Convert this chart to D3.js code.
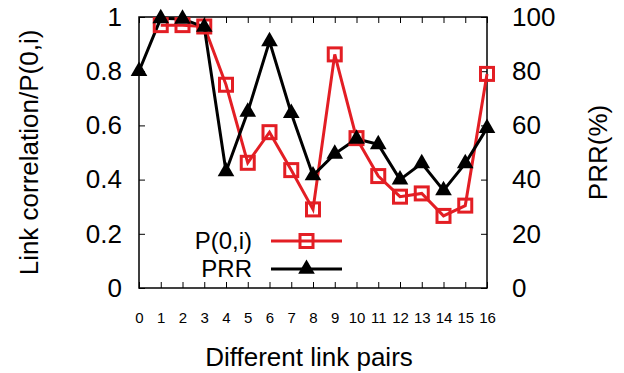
<!DOCTYPE html>
<html lang="en">
<head>
    <meta charset="UTF-8">
    <script src="https://d3js.org/d3.v7.min.js"></script>
    <title>Link correlation and PRR</title>
    <style>
        body { margin: 0; background: #fff; }
        svg { font-family: "Liberation Sans", Arial, sans-serif; }
    </style>
</head>
<body>
    <div id="chart"></div>
    <script>
        // Link pair indices
        const pairs = [0, 1, 2, 3, 4, 5, 6, 7, 8, 9, 10, 11, 12, 13, 14, 15, 16];
        // P(0,i) for pairs 1..16
        const pPairs = [1, 2, 3, 4, 5, 6, 7, 8, 9, 10, 11, 12, 13, 14, 15, 16];
        const pValues = [0.97, 0.97, 0.965, 0.75, 0.462, 0.575, 0.435, 0.29, 0.862, 0.553, 0.413, 0.337, 0.349, 0.266, 0.304, 0.79];
        // PRR (%) for pairs 0..16
        const prrValues = [80, 99.5, 99.3, 96.3, 43, 65, 91, 64.5, 41.5, 49.5, 55, 53, 40, 46, 36, 46, 59];
        const leftTicks = [0, 0.2, 0.4, 0.6, 0.8, 1];
        const rightTicks = [0, 20, 40, 60, 80, 100];

        const W = 624, H = 373;
        const margin = { top: 17, right: 137, bottom: 85, left: 139 };
        const width = W - margin.left - margin.right;
        const height = H - margin.top - margin.bottom;
        const red = "#e31e24";

        const svg = d3.select("#chart").append("svg")
            .attr("width", W).attr("height", H);
        const g = svg.append("g")
            .attr("transform", `translate(${margin.left},${margin.top})`);

        const x = d3.scaleLinear().domain([0, 16]).range([0, width]);
        const yL = d3.scaleLinear().domain([0, 1]).range([height, 0]);
        const yR = d3.scaleLinear().domain([0, 100]).range([height, 0]);

        // Axes (gnuplot style: inward ticks, mirrored)
        const styleAxis = sel => {
            sel.select(".domain").remove();
            sel.selectAll(".tick line").attr("stroke", "#000").attr("stroke-width", 1);
        };
        g.append("g").attr("transform", `translate(0,${height})`)
            .call(d3.axisBottom(x).tickValues(pairs).tickSize(-6).tickPadding(24).tickFormat(d3.format("d")))
            .call(styleAxis)
            .call(s => s.selectAll("text").attr("font-size", 15).attr("fill", "#000"));
        g.append("g")
            .call(d3.axisTop(x).tickValues(pairs).tickSize(-6).tickFormat(""))
            .call(styleAxis);
        g.append("g")
            .call(d3.axisLeft(yL).tickValues(leftTicks).tickSize(-6).tickPadding(17)
                .tickFormat(d => d === 0 || d === 1 ? d3.format("d")(d) : d3.format(".1f")(d)))
            .call(styleAxis)
            .call(s => s.selectAll("text").attr("font-size", 26).attr("fill", "#000"));
        g.append("g").attr("transform", `translate(${width},0)`)
            .call(d3.axisRight(yR).tickValues(rightTicks).tickSize(-6).tickPadding(25).tickFormat(d3.format("d")))
            .call(styleAxis)
            .call(s => s.selectAll("text").attr("font-size", 26).attr("fill", "#000"));

        // Frame
        g.append("rect").attr("width", width).attr("height", height)
            .attr("fill", "none").attr("stroke", "#000").attr("stroke-width", 1.5);

        // Series
        const pData = pPairs.map((p, i) => ({ x: p, y: pValues[i] }));
        const prrData = pairs.map((p, i) => ({ x: p, y: prrValues[i] }));

        g.append("path").datum(pData)
            .attr("fill", "none").attr("stroke", red).attr("stroke-width", 3)
            .attr("d", d3.line().x(d => x(d.x)).y(d => yL(d.y)));
        g.append("path").datum(prrData)
            .attr("fill", "none").attr("stroke", "#000").attr("stroke-width", 3)
            .attr("d", d3.line().x(d => x(d.x)).y(d => yR(d.y)));

        const sq = 13;
        g.selectAll(".sq").data(pData).enter().append("rect")
            .attr("x", d => x(d.x) - sq / 2).attr("y", d => yL(d.y) - sq / 2)
            .attr("width", sq).attr("height", sq)
            .attr("fill", "none").attr("stroke", red).attr("stroke-width", 3);

        const tri = d3.symbol().type(d3.symbolTriangle).size(120);
        g.selectAll(".tri").data(prrData).enter().append("path")
            .attr("transform", d => `translate(${x(d.x)},${yR(d.y)})`)
            .attr("d", tri).attr("fill", "#000");

        // Legend
        const legend = svg.append("g");
        const items = [
            { label: "P(0,i)", color: red, y: 241, marker: "sq" },
            { label: "PRR", color: "#000", y: 269, marker: "tri" }
        ];
        items.forEach(it => {
            legend.append("text").attr("x", 252).attr("y", it.y)
                .attr("dy", "0.35em").attr("text-anchor", "end")
                .attr("font-size", 24).text(it.label);
            legend.append("line").attr("x1", 271).attr("x2", 342)
                .attr("y1", it.y).attr("y2", it.y)
                .attr("stroke", it.color).attr("stroke-width", 3);
            if (it.marker === "sq") {
                legend.append("rect").attr("x", 306.5 - sq / 2).attr("y", it.y - sq / 2)
                    .attr("width", sq).attr("height", sq)
                    .attr("fill", "none").attr("stroke", red).attr("stroke-width", 3);
            } else {
                legend.append("path").attr("transform", `translate(306.5,${it.y})`)
                    .attr("d", tri).attr("fill", "#000");
            }
        });

        // Axis titles
        svg.append("text").attr("transform", `translate(38,${margin.top + height / 2}) rotate(-90)`)
            .attr("text-anchor", "middle").attr("font-size", 26).text("Link correlation/P(0,i)");
        svg.append("text").attr("transform", `translate(607,${margin.top + height / 2}) rotate(-90)`)
            .attr("text-anchor", "middle").attr("font-size", 26).text("PRR(%)");
        svg.append("text").attr("x", margin.left + width / 2 - 4).attr("y", 366)
            .attr("text-anchor", "middle").attr("font-size", 26).text("Different link pairs");
    </script>
</body>
</html>
